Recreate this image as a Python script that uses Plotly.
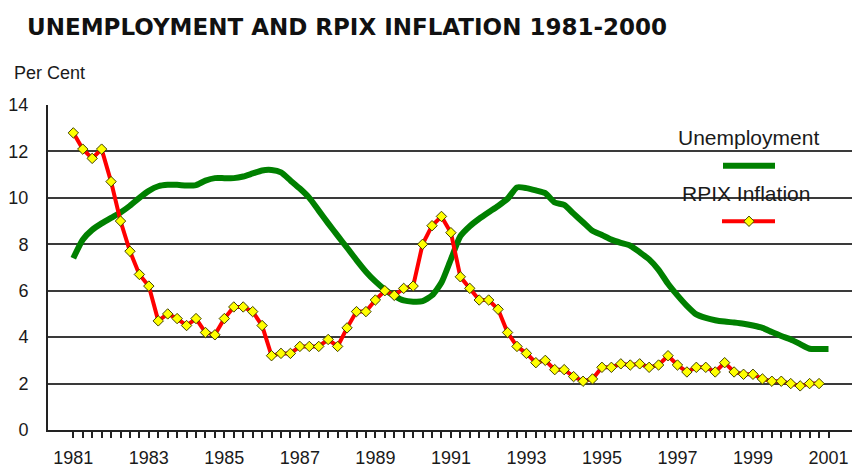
import plotly.graph_objects as go

# ---- data (quarterly) ----
rpix_start_year = 1981
rpix_inflation = [
    12.8, 12.1, 11.7, 12.1, 10.7, 9.0, 7.7, 6.7, 6.2, 4.7,
    5.0, 4.8, 4.5, 4.8, 4.2, 4.1, 4.8, 5.3, 5.3, 5.1,
    4.5, 3.2, 3.3, 3.3, 3.6, 3.6, 3.6, 3.9, 3.6, 4.4,
    5.1, 5.1, 5.6, 6.0, 5.8, 6.1, 6.2, 8.0, 8.8, 9.2,
    8.5, 6.6, 6.1, 5.6, 5.6, 5.2, 4.2, 3.6, 3.3, 2.9,
    3.0, 2.6, 2.6, 2.3, 2.1, 2.2, 2.7, 2.7, 2.85, 2.8,
    2.85, 2.7, 2.8, 3.2, 2.8, 2.5, 2.7, 2.7, 2.5, 2.9,
    2.5, 2.4, 2.4, 2.2, 2.1, 2.1, 2.0, 1.9, 2.0, 2.0,
]
unemployment = [
    7.4, 8.2, 8.62, 8.9, 9.14, 9.37, 9.66, 10.0, 10.3, 10.5,
    10.56, 10.56, 10.53, 10.55, 10.74, 10.85, 10.85, 10.85, 10.92, 11.05,
    11.18, 11.2, 11.1, 10.75, 10.4, 10.0, 9.45, 8.9, 8.37, 7.85,
    7.32, 6.82, 6.4, 6.05, 5.78, 5.58, 5.53, 5.55, 5.8, 6.35,
    7.35, 8.35, 8.78, 9.1, 9.38, 9.65, 9.96, 10.45, 10.42, 10.32,
    10.2, 9.8, 9.7, 9.32, 8.95, 8.58, 8.4, 8.2, 8.06, 7.94,
    7.66, 7.35, 6.9, 6.3, 5.8, 5.35, 4.98, 4.83, 4.73, 4.67,
    4.63, 4.58, 4.5, 4.4, 4.22, 4.05, 3.9, 3.7, 3.5, 3.49,
    3.49,
]
tick_years = list(range(1981, 2002))
y_ticks = [0, 2, 4, 6, 8, 10, 12, 14]

x_rpix = [rpix_start_year + i / 4 for i in range(len(rpix_inflation))]
x_unemp = [rpix_start_year + i / 4 for i in range(len(unemployment))]

# quarterly ticks, labels on odd years only
tickvals = []
ticktext = []
for y in tick_years:
    for q in range(4):
        if y == tick_years[-1] and q > 0:
            break
        tickvals.append(y + q / 4)
        ticktext.append(str(y) if (q == 0 and (y - 1981) % 2 == 0) else "")

fig = go.Figure()
fig.add_trace(go.Scatter(
    x=x_unemp, y=unemployment, mode="lines", name="Unemployment",
    line=dict(color="#008000", width=6, shape="spline", smoothing=0.6),
))
fig.add_trace(go.Scatter(
    x=x_rpix, y=rpix_inflation, mode="lines+markers", name="RPIX Inflation",
    line=dict(color="#ff0000", width=4),
    marker=dict(symbol="diamond", size=8, color="#ffff00",
                line=dict(color="#404000", width=1)),
))

W, H = 852, 468
L, R, T, B = 48, 0, 105, 36
pw, ph = W - L - R, H - T - B

def px(x):
    return (x - L) / pw

def py(y):
    return (H - B - y) / ph

# custom legend (white box, texts above samples)
shapes = [
    dict(type="rect", xref="paper", yref="paper", layer="between",
         x0=px(660), x1=px(835), y0=py(232), y1=py(125),
         fillcolor="white", line=dict(width=0)),
    dict(type="line", xref="paper", yref="paper",
         x0=px(723), x1=px(775), y0=py(166), y1=py(166),
         line=dict(color="#008000", width=6)),
    dict(type="line", xref="paper", yref="paper",
         x0=px(722), x1=px(775), y0=py(222), y1=py(222),
         line=dict(color="#ff0000", width=4)),
]
cx, cy, d = 749, 222, 5.2
shapes.append(dict(
    type="path", xref="paper", yref="paper",
    path=(f"M {px(cx-d)},{py(cy)} L {px(cx)},{py(cy-d)} "
          f"L {px(cx+d)},{py(cy)} L {px(cx)},{py(cy+d)} Z"),
    fillcolor="#ffff00", line=dict(color="#404000", width=1),
))

annotations = [
    dict(text="Per Cent", xref="paper", yref="paper", x=px(12), y=py(73),
         xanchor="left", yanchor="middle", showarrow=False,
         font=dict(family="Liberation Sans, Arial", size=18, color="#1a1a1a")),
    dict(text="Unemployment", xref="paper", yref="paper", x=px(748), y=py(138),
         xanchor="center", yanchor="middle", showarrow=False,
         font=dict(family="Liberation Sans, Arial", size=21, color="#1a1a1a")),
    dict(text="RPIX Inflation", xref="paper", yref="paper", x=px(746), y=py(194),
         xanchor="center", yanchor="middle", showarrow=False,
         font=dict(family="Liberation Sans, Arial", size=21, color="#1a1a1a")),
]

fig.update_layout(
    width=W, height=H,
    margin=dict(l=L, r=R, t=T, b=B, pad=0),
    paper_bgcolor="white", plot_bgcolor="white",
    showlegend=False,
    title=dict(text="<b>UNEMPLOYMENT AND RPIX INFLATION 1981-2000</b>",
               x=27 / W, xanchor="left", xref="container",
               y=1 - 27 / H, yanchor="middle", yref="container",
               font=dict(family="DejaVu Sans", size=23, color="#111111")),
    shapes=shapes,
    annotations=annotations,
    xaxis=dict(
        range=[1981 - (73.3 - L) / 37.76, 1981 + (W - 73.3) / 37.76],
        tickmode="array", tickvals=tickvals, ticktext=ticktext,
        ticks="outside", ticklen=6, tickwidth=1.5, tickcolor="#222222",
        showgrid=False, zeroline=False,
        showline=True, linecolor="#222222", linewidth=2,
        tickfont=dict(family="Liberation Sans, Arial", size=18, color="#1a1a1a"),
        ticklabelstandoff=4,
    ),
    yaxis=dict(
        range=[0, 14], tickmode="array", tickvals=y_ticks,
        ticks="", showgrid=True, gridcolor="#3a3a3a", gridwidth=1.6,
        zeroline=False, showline=True, linecolor="#222222", linewidth=2,
        tickfont=dict(family="Liberation Sans, Arial", size=18, color="#1a1a1a"),
        ticklabelstandoff=14,
    ),
)

fig.write_html(
    "out.html",
    config={"displayModeBar": False},
    post_script="document.body.style.margin='0px';document.body.style.overflow='hidden';",
)
